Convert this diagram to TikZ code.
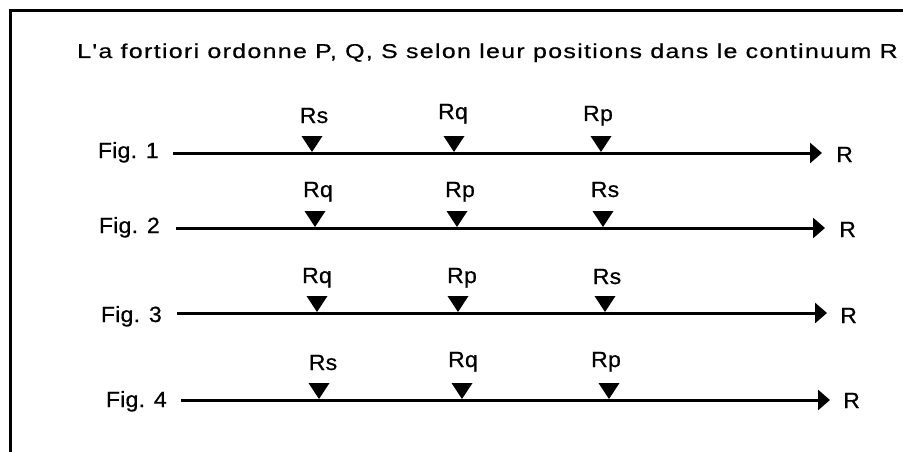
\documentclass[tikz,border=0pt]{standalone}
\usepackage{fontspec}
\setmainfont{Liberation Sans}
\newfontfamily\titlefont[FakeStretch=1.25,LetterSpace=6.5,FakeBold=0.6]{Liberation Sans}
\newfontfamily\lblfont[FakeStretch=1.05,LetterSpace=1,FakeBold=0.6]{Liberation Sans}
\usetikzlibrary{arrows.meta}
\begin{document}
\begin{tikzpicture}[x=1pt,y=-1pt,
  lbl/.style={inner sep=0pt,anchor=base,font=\lblfont\fontsize{22}{22}\selectfont},
  figlbl/.style={inner sep=0pt,anchor=base east,font=\lblfont\fontsize{22}{22}\selectfont},
  rlbl/.style={inner sep=0pt,anchor=base west,font=\lblfont\fontsize{22}{22}\selectfont},
  axis/.style={line width=3pt,-{Triangle[length=12pt,width=20pt]}},
  frame/.style={line width=3pt}]
\useasboundingbox (0,0) rectangle (903,452);
\coordinate (fa) at (10,452);
\coordinate (fb) at (10,11);
\coordinate (fc) at (903,11);
\draw[frame] (fa) -- (fb) -- (fc);
\node[inner sep=0pt,anchor=base west,font=\titlefont\fontsize{20}{20}\selectfont] (title) at (77,58)
  {L'a fortiori ordonne P, Q, S selon leur positions dans le continuum R};
\def\tri#1#2{\fill (#1,#2) -- ++(-10.5,-16) -- ++(21,0) -- cycle;}
% row 1
\node[figlbl] (f1) at (159,158) {Fig. 1};
\coordinate (s1) at (173,153); \coordinate (e1) at (822,153);
\draw[axis] (s1) -- (e1);
\node[rlbl] (r1) at (836,162) {R};
\tri{312}{152}\tri{454}{152}\tri{601}{152}
\node[lbl] (a1) at (314,123) {Rs};
\node[lbl] (b1) at (453,119) {Rq};
\node[lbl] (c1) at (598,121) {Rp};
% row 2
\node[figlbl] (f2) at (160,233) {Fig. 2};
\coordinate (s2) at (176,228); \coordinate (e2) at (825,228);
\draw[axis] (s2) -- (e2);
\node[rlbl] (r2) at (839,237) {R};
\tri{315}{227}\tri{457}{227}\tri{603}{227}
\node[lbl] (a2) at (318,197) {Rq};
\node[lbl] (b2) at (460,197) {Rp};
\node[lbl] (c2) at (605,197) {Rs};
% row 3
\node[figlbl] (f3) at (162,322) {Fig. 3};
\coordinate (s3) at (177,313); \coordinate (e3) at (827,313);
\draw[axis] (s3) -- (e3);
\node[rlbl] (r3) at (840,323) {R};
\tri{317}{312}\tri{458}{312}\tri{605}{312}
\node[lbl] (a3) at (317,283) {Rq};
\node[lbl] (b3) at (462,283) {Rp};
\node[lbl] (c3) at (607,284) {Rs};
% row 4
\node[figlbl] (f4) at (167,407) {Fig. 4};
\coordinate (s4) at (181,400); \coordinate (e4) at (830,400);
\draw[axis] (s4) -- (e4);
\node[rlbl] (r4) at (843,408) {R};
\tri{319}{399}\tri{462}{399}\tri{609}{399}
\node[lbl] (a4) at (323,370) {Rs};
\node[lbl] (b4) at (463,367) {Rq};
\node[lbl] (c4) at (606,367) {Rp};
\end{tikzpicture}
\end{document}
